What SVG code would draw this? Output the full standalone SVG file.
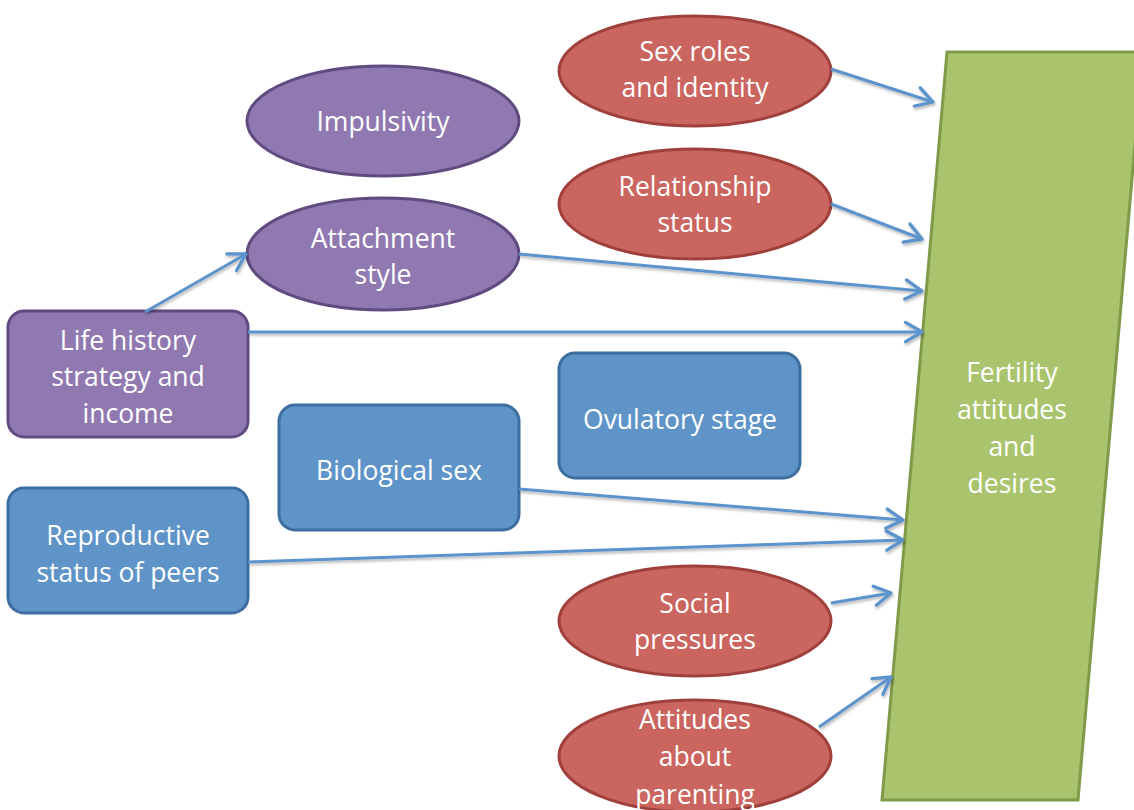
<svg xmlns="http://www.w3.org/2000/svg" width="1134" height="810" viewBox="0 0 1134 810">
<defs>
<marker id="ah" markerWidth="8" markerHeight="8" refX="6.5" refY="4" orient="auto" markerUnits="strokeWidth">
<path d="M1,0.8 L6.5,4 L1,7.2" fill="none" stroke="#5B93CC" stroke-width="1.1" stroke-linecap="round" stroke-linejoin="round"/>
</marker>
<filter id="sh" x="-10%" y="-10%" width="120%" height="120%">
<feDropShadow dx="1" dy="2" stdDeviation="1.5" flood-color="#000" flood-opacity="0.3"/>
</filter>
</defs>
<style>
.p{fill:#9079B0;stroke:#5F4B80;stroke-width:3}
.r{fill:#CB6560;stroke:#A0403C;stroke-width:3}
.b{fill:#5E94C8;stroke:#3D6E9F;stroke-width:3}
.g{fill:#AAC46D;stroke:#7F9A48;stroke-width:3}
text{font-family:"Open Sans",Lato,"Liberation Sans",sans-serif;font-size:26.5px;fill:#fff;text-anchor:middle}
.c line{stroke:#5B93CC;stroke-width:3;fill:none;marker-end:url(#ah)}
</style>
<rect width="1134" height="810" fill="#fff"/>
<g id="fertility">
<polygon class="g" points="947,52 1143,52 1078,800 882,800"/>
<text x="1012" y="382">Fertility</text>
<text x="1012" y="419">attitudes</text>
<text x="1012" y="456">and</text>
<text x="1012" y="493">desires</text>
</g>
<g id="sexroles">
<ellipse class="r" cx="695" cy="71" rx="136" ry="55"/>
<text x="695" y="61">Sex roles</text>
<text x="695" y="97">and identity</text>
</g>
<g id="impulsivity">
<ellipse class="p" cx="383" cy="121" rx="136" ry="55"/>
<text x="383" y="131">Impulsivity</text>
</g>
<g id="relationship">
<ellipse class="r" cx="695" cy="204" rx="136" ry="55"/>
<text x="695" y="196">Relationship</text>
<text x="695" y="232">status</text>
</g>
<g id="attachment">
<ellipse class="p" cx="383" cy="254" rx="136" ry="56"/>
<text x="383" y="248">Attachment</text>
<text x="383" y="284">style</text>
</g>
<g id="lifehistory">
<rect class="p" x="8" y="311" width="240" height="126" rx="16"/>
<text x="128" y="350">Life history</text>
<text x="128" y="386">strategy and</text>
<text x="128" y="423">income</text>
</g>
<g id="ovulatory">
<rect class="b" x="559" y="353" width="241" height="125" rx="16"/>
<text x="680" y="429">Ovulatory stage</text>
</g>
<g id="biosex">
<rect class="b" x="279" y="405" width="240" height="125" rx="16"/>
<text x="399" y="480">Biological sex</text>
</g>
<g id="reproductive">
<rect class="b" x="8" y="488" width="240" height="125" rx="16"/>
<text x="128" y="545">Reproductive</text>
<text x="128" y="582">status of peers</text>
</g>
<g id="social">
<ellipse class="r" cx="695" cy="621" rx="136" ry="55"/>
<text x="695" y="613">Social</text>
<text x="695" y="649">pressures</text>
</g>
<g id="attitudes">
<ellipse class="r" cx="695" cy="756" rx="136" ry="56"/>
<text x="695" y="729">Attitudes</text>
<text x="695" y="766">about</text>
<text x="695" y="804">parenting</text>
</g>
<g class="c" id="connectors" filter="url(#sh)">
<line x1="831" y1="69" x2="933" y2="102"/>
<line x1="831" y1="204" x2="922" y2="239"/>
<line x1="519" y1="254" x2="922" y2="291"/>
<line x1="248" y1="332" x2="922" y2="332"/>
<line x1="145" y1="312" x2="246" y2="254"/>
<line x1="519" y1="489" x2="903" y2="520"/>
<line x1="248" y1="562" x2="903" y2="540"/>
<line x1="831" y1="603" x2="891" y2="593"/>
<line x1="819" y1="727" x2="891" y2="677"/>
</g>
</svg>
